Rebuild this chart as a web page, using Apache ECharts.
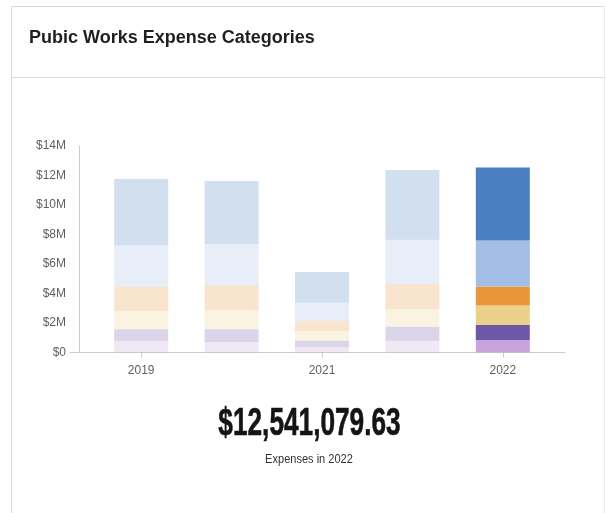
<!DOCTYPE html>
<html>
<head>
<meta charset="utf-8">
<style>
  html, body { margin: 0; padding: 0; background: #fff; }
  #chart { width: 606px; height: 513px; }
</style>
<script src="https://cdn.jsdelivr.net/npm/echarts@6/dist/echarts.min.js"></script>
</head>
<body>
<div id="chart"></div>
<script>
// Fiscal periods shown on the x axis (unlabelled bars have empty names)
const categories = ['2019', '', '2021', '', '2022'];

// Expense groups, stacked from the bottom up (dollars)
const groupA = [800000, 710000, 350000, 800000, 850000];
const groupB = [770000, 860000, 450000, 950000, 1020000];
const groupC = [1240000, 1290000, 650000, 1200000, 1310000];
const groupD = [1650000, 1690000, 700000, 1670000, 1290000];
const groupE = [2810000, 2800000, 1240000, 3020000, 3120000];
const groupF = [4490000, 4270000, 2060000, 4730000, 4951079.63];

const yTicks = { min: 0, max: 14000000, interval: 2000000 };

const stackSeries = [
  { name: 'groupA', data: groupA, color: '#c9a3db' },
  { name: 'groupB', data: groupB, color: '#6c58a8' },
  { name: 'groupC', data: groupC, color: '#ebd08c' },
  { name: 'groupD', data: groupD, color: '#e8963a' },
  { name: 'groupE', data: groupE, color: '#a4bde4' },
  { name: 'groupF', data: groupF, color: '#4a7fc1' }
];

const focusIndex = categories.length - 1;
const focusTotal = stackSeries.reduce((s, g) => s + g.data[focusIndex], 0);
const totalText = '$' + focusTotal.toLocaleString('en-US', { minimumFractionDigits: 2, maximumFractionDigits: 2 });

const axisFont = "'Liberation Sans', Arial, sans-serif";
const showLabelled = (i) => categories[i] !== '';

const chart = echarts.init(document.getElementById('chart'), null, { renderer: 'canvas' });

chart.setOption({
  animation: false,
  backgroundColor: '#fff',
  grid: [
    { left: 96, right: 58, top: 146, bottom: 160.5 },
    { left: 70, right: 41, top: 146, bottom: 160.5 }
  ],
  xAxis: [
    {
      type: 'category',
      gridIndex: 0,
      data: categories,
      axisLine: { show: false },
      axisTick: { show: true, alignWithLabel: true, interval: showLabelled, length: 5, lineStyle: { color: '#cccccc' } },
      axisLabel: { interval: showLabelled, margin: 12, color: '#606060', fontSize: 12, fontFamily: axisFont }
    },
    {
      type: 'value',
      gridIndex: 1,
      min: 0, max: 1,
      axisLine: { show: true, lineStyle: { color: '#cccccc', width: 1 } },
      axisTick: { show: false },
      axisLabel: { show: false },
      splitLine: { show: false }
    }
  ],
  yAxis: [
    {
      type: 'value',
      gridIndex: 0,
      min: yTicks.min, max: yTicks.max, interval: yTicks.interval,
      show: false
    },
    {
      type: 'value',
      gridIndex: 1,
      min: yTicks.min, max: yTicks.max, interval: yTicks.interval,
      offset: -9,
      axisLine: { show: true, lineStyle: { color: '#cccccc', width: 1 } },
      axisTick: { show: false },
      splitLine: { show: false },
      axisLabel: {
        margin: 13,
        color: '#606060',
        fontSize: 12,
        fontFamily: axisFont,
        formatter: (v) => v === 0 ? '$0' : '$' + (v / 1000000) + 'M'
      }
    }
  ],
  series: stackSeries.map((g) => ({
    name: g.name,
    type: 'bar',
    stack: 'total',
    xAxisIndex: 0,
    yAxisIndex: 0,
    barWidth: 54,
    itemStyle: { color: g.color },
    emphasis: { disabled: true },
    data: g.data.map((v, i) => ({
      value: v,
      itemStyle: { opacity: i === focusIndex ? 1 : 0.25 }
    }))
  })),
  graphic: [
    {
      type: 'polyline',
      silent: true,
      shape: { points: [[11.5, 520], [11.5, 6.5], [604.5, 6.5]] },
      style: { fill: 'none', stroke: '#d9d9d9', lineWidth: 1 }
    },
    {
      type: 'line',
      silent: true,
      shape: { x1: 604.5, y1: 6.5, x2: 604.5, y2: 520 },
      style: { stroke: '#ececec', lineWidth: 1 }
    },
    {
      type: 'line',
      silent: true,
      shape: { x1: 11.5, y1: 77.5, x2: 604.5, y2: 77.5 },
      style: { stroke: '#dcdcdc', lineWidth: 1 }
    },
    {
      type: 'text',
      x: 29, y: 38,
      style: {
        text: 'Pubic Works Expense Categories',
        font: "bold 18px 'Liberation Sans', Arial, sans-serif",
        fill: '#1f1f1f',
        textAlign: 'left',
        textVerticalAlign: 'middle'
      }
    },
    {
      type: 'text',
      x: 309.5, y: 425,
      scaleX: 0.69,
      style: {
        text: totalText,
        font: "bold 38px 'Liberation Sans', Arial, sans-serif",
        fill: '#141414',
        stroke: '#141414',
        lineWidth: 0.6,
        textAlign: 'center',
        textVerticalAlign: 'middle'
      }
    },
    {
      type: 'text',
      x: 309, y: 460,
      scaleX: 0.92,
      style: {
        text: 'Expenses in ' + categories[focusIndex],
        font: "12px 'Liberation Sans', Arial, sans-serif",
        fill: '#333',
        textAlign: 'center',
        textVerticalAlign: 'middle'
      }
    }
  ]
});
</script>
</body>
</html>
